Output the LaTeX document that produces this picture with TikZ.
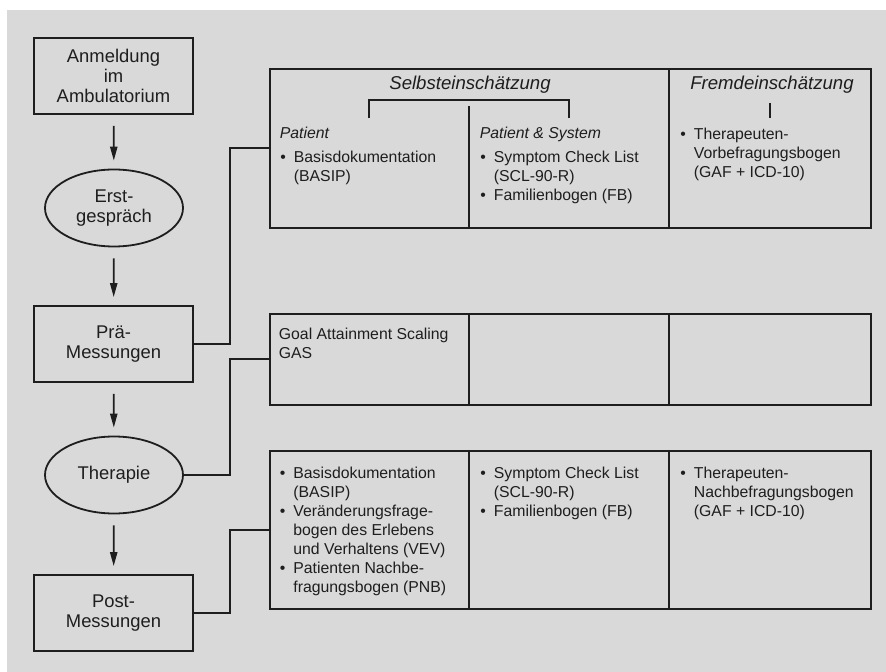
\documentclass[tikz,border=0pt]{standalone}
\usepackage{fontspec}
\setmainfont{Liberation Sans}
\usepackage{tikz}
\usetikzlibrary{arrows.meta,positioning,shapes.geometric,calc}
\definecolor{panel}{HTML}{D9D9D9}
\definecolor{ink}{HTML}{1E1E1E}
\newcommand{\bul}{\makebox[6.75pt][l]{\textbullet}}
\tikzset{
  stage/.style={
    draw,
    minimum width=79.5pt,
    minimum height=38pt,
    inner sep=0pt,
    align=center,
    font=\fontsize{9.2}{10}\selectfont
  },
  round stage/.style={
    stage,
    shape=ellipse,
    minimum width=69pt,
    minimum height=38.5pt
  },
  row/.style={
    draw,
    anchor=north west,
    inner sep=0pt,
    minimum width=300.5pt
  },
  cell/.style={
    anchor=north west,
    inner sep=0pt,
    align=left,
    font=\fontsize{7.9}{9.5}\selectfont
  },
  head/.style={anchor=base, inner sep=0pt, font=\fontsize{9.3}{11}\selectfont\itshape},
  subhead/.style={anchor=base west, inner sep=0pt, font=\fontsize{7.9}{9.5}\selectfont\itshape},
  flow/.style={-{Triangle[length=7pt,width=3.6pt]}, shorten <=5.5pt, shorten >=4pt}
}

\begin{document}
\begin{tikzpicture}[x=0.5pt,y=-0.5pt,line width=0.9pt,color=ink]
    \useasboundingbox (0,0) rectangle (886,672);
    \fill[panel] (7,10) rectangle (886,672);

    \path{
      node[stage] (anm) at (113.5,76) {Anmeldung\\im\\Ambulatorium}
      node[round stage] (erst) at (114,208) {Erst-\\gespräch}
      node[stage] (pra) at (113.5,344) {Prä-\\Messungen}
      node[round stage] (ther) at (114,475) {Therapie}
      node[stage] (post) at (113.5,613) {Post-\\Messungen}
    };

    \path{
      node[row,minimum height=79.5pt] (row1) at (269,68) {}
      node[row,minimum height=45.5pt] (row2) at (269,313) {}
      node[row,minimum height=79pt] (row3) at (269,450) {}
    };
    \coordinate (bus) at (230,0);
    \coordinate (d1) at (469,0);
    \coordinate (d2) at (669,0);

    \path[flow,draw]{
      (anm) edge (erst)
      (erst) edge (pra)
      (pra) edge (ther)
      (ther) edge (post)
    };

    \draw (pra.east) -- (pra.east -| bus) |- (row1.west);
    \draw (ther.east) -- (ther.east -| bus) |- (row2.west);
    \draw (post.east) -- (post.east -| bus) |- (row3.west);

    \node[head] (selbst) at (470,89.5) {Selbsteinschätzung};
    \node[head] (fremd) at (772,89.5) {Fremdeinschätzung};
    \draw (369,118) -- (369,100) -- (569,100) -- (569,118);
    \draw (770,103) -- (770,118);
    \draw (469,106) -- (row1.south -| d1);
    \draw (row1.north -| d2) -- (row1.south -| d2);
    \foreach \r in {row2,row3}{
      \draw (\r.north -| d1) -- (\r.south -| d1);
      \draw (\r.north -| d2) -- (\r.south -| d2);
    }

    \node[subhead] (pat) at (279,138.5) {Patient};
    \node[subhead] (patsys) at (479,138.5) {Patient \& System};
    \node[cell] (c11) at (279.5,148) {\begin{tabular}{@{}l@{}l@{}}\bul & Basisdokumentation\\ & (BASIP)\end{tabular}};
    \node[cell] (c12) at (479.5,148) {\begin{tabular}{@{}l@{}l@{}}\bul & Symptom Check List\\ & (SCL-90-R)\\ \bul & Familienbogen (FB)\end{tabular}};
    \node[cell] (c13) at (679.5,125.5) {\begin{tabular}{@{}l@{}l@{}}\bul & Therapeuten-\\ & Vorbefragungsbogen\\ & (GAF + ICD-10)\end{tabular}};

    \node[cell] (c21) at (278,325.5) {\begin{tabular}{@{}l@{}}Goal Attainment Scaling\\GAS\end{tabular}};

    \node[cell] (c31) at (279,464.5) {\begin{tabular}{@{}l@{}l@{}}\bul & Basisdokumentation\\ & (BASIP)\\ \bul & Veränderungsfrage-\\ & bogen des Erlebens\\ & und Verhaltens (VEV)\\ \bul & Patienten Nachbe-\\ & fragungsbogen (PNB)\end{tabular}};
    \node[cell] (c32) at (479.5,464.5) {\begin{tabular}{@{}l@{}l@{}}\bul & Symptom Check List\\ & (SCL-90-R)\\ \bul & Familienbogen (FB)\end{tabular}};
    \node[cell] (c33) at (679.5,464.5) {\begin{tabular}{@{}l@{}l@{}}\bul & Therapeuten-\\ & Nachbefragungsbogen\\ & (GAF + ICD-10)\end{tabular}};
  \end{tikzpicture}
\end{document}
